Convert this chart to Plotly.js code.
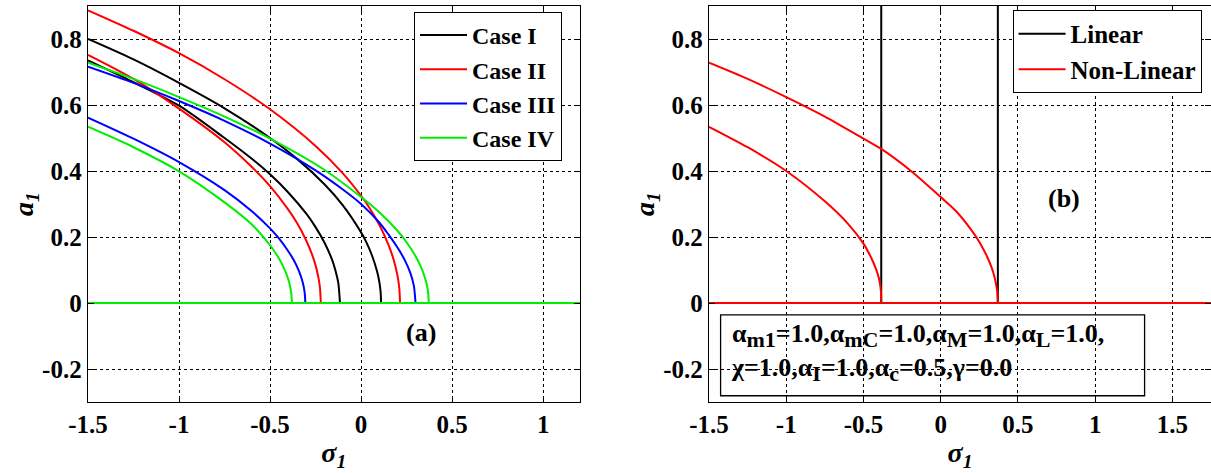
<!DOCTYPE html>
<html>
<head>
<meta charset="utf-8">
<script src="https://cdn.plot.ly/plotly-3.0.1.min.js"></script>
<style>html,body{margin:0;padding:0;background:#fff;}#chart{width:1211px;height:473px;}</style>
</head>
<body>
<div id="chart"></div>
<script>
// ---------- Data ----------
// Panel (a): a1 versus sigma1, upper and lower branches for four cases
const caseNames = ['Case I', 'Case II', 'Case III', 'Case IV'];
const caseColors = ['#000000', '#ff0000', '#0000ff', '#00ee00'];

const case1UpperX = [-1.5, -1.25, -1, -0.75, -0.5, -0.35, -0.2, -0.1, 0, 0.03, 0.06, 0.087, 0.1, 0.107, 0.11];
const case1UpperY = [0.80, 0.738, 0.667, 0.59, 0.50, 0.436, 0.359, 0.296, 0.214, 0.183, 0.144, 0.098, 0.065, 0.035, 0];
const case1LowerX = [-1.5, -1.25, -1, -0.75, -0.6, -0.5, -0.4, -0.3, -0.25, -0.2, -0.16, -0.14, -0.125, -0.116];
const case1LowerY = [0.735, 0.669, 0.598, 0.50, 0.437, 0.39, 0.335, 0.27, 0.23, 0.182, 0.132, 0.097, 0.06, 0];

const case2UpperX = [-1.5, -1.25, -1, -0.75, -0.5, -0.25, -0.1, 0, 0.05, 0.1, 0.15, 0.18, 0.2, 0.21, 0.214];
const case2UpperY = [0.887, 0.825, 0.757, 0.678, 0.587, 0.476, 0.393, 0.325, 0.285, 0.237, 0.177, 0.129, 0.083, 0.044, 0];
const case2LowerX = [-1.5, -1.25, -1, -0.75, -0.6, -0.5, -0.4, -0.35, -0.3, -0.27, -0.25, -0.235, -0.226, -0.221];
const case2LowerY = [0.752, 0.679, 0.589, 0.487, 0.412, 0.354, 0.283, 0.241, 0.188, 0.148, 0.114, 0.079, 0.047, 0];

const case3UpperX = [-1.5, -1.25, -1, -0.75, -0.5, -0.25, -0.1, 0, 0.1, 0.15, 0.2, 0.24, 0.27, 0.29, 0.299];
const case3UpperY = [0.716, 0.667, 0.612, 0.552, 0.483, 0.402, 0.344, 0.30, 0.244, 0.208, 0.168, 0.13, 0.092, 0.052, 0];
const case3LowerX = [-1.5, -1.25, -1, -0.75, -0.6, -0.5, -0.45, -0.4, -0.37, -0.34, -0.32, -0.31, -0.306];
const case3LowerY = [0.562, 0.498, 0.427, 0.342, 0.278, 0.226, 0.195, 0.157, 0.13, 0.095, 0.061, 0.032, 0];

const case4UpperX = [-1.5, -1.25, -1, -0.75, -0.5, -0.2, 0, 0.1, 0.2, 0.25, 0.3, 0.33, 0.35, 0.362, 0.368, 0.372];
const case4UpperY = [0.728, 0.679, 0.624, 0.565, 0.498, 0.403, 0.321, 0.275, 0.219, 0.184, 0.141, 0.108, 0.078, 0.053, 0.033, 0];
const case4LowerX = [-1.5, -1.25, -1, -0.75, -0.6, -0.5, -0.45, -0.42, -0.4, -0.39, -0.383, -0.38];
const case4LowerY = [0.534, 0.472, 0.399, 0.305, 0.238, 0.175, 0.134, 0.101, 0.072, 0.05, 0.028, 0];

const trivialXa = [-1.5, 1.2];   // a1 = 0 solution, panel (a)
const trivialYa = [0, 0];

// Panel (b): linear vs non-linear
const linearSigma = [-0.385, 0.37];
const linearA = [0, 1];
const nlUpperX = [-1.5, -1.25, -1, -0.75, -0.5, -0.385, -0.2, 0, 0.1, 0.2, 0.25, 0.3, 0.33, 0.35, 0.36, 0.366, 0.37];
const nlUpperY = [0.728, 0.679, 0.624, 0.565, 0.498, 0.467, 0.403, 0.321, 0.278, 0.22, 0.185, 0.141, 0.107, 0.076, 0.053, 0.034, 0];
const nlLowerX = [-1.5, -1.25, -1, -0.75, -0.6, -0.5, -0.45, -0.42, -0.4, -0.392, -0.387, -0.385];
const nlLowerY = [0.534, 0.472, 0.40, 0.308, 0.24, 0.18, 0.137, 0.104, 0.075, 0.055, 0.034, 0];
const trivialXb = [-1.5, 1.8];
const trivialYb = [0, 0];

// Tick labels
const xTicksA = [-1.5, -1, -0.5, 0, 0.5, 1];
const xTickTextA = ['-1.5', '-1', '-0.5', '0', '0.5', '1'];
const xTicksB = [-1.5, -1, -0.5, 0, 0.5, 1, 1.5];
const xTickTextB = ['-1.5', '-1', '-0.5', '0', '0.5', '1', '1.5'];
const yTicks = [-0.2, 0, 0.2, 0.4, 0.6, 0.8];
const yTickText = ['-0.2', '0', '0.2', '0.4', '0.6', '0.8'];

// ---------- Build traces ----------
const FAM = 'Liberation Serif';
function joinBranches(parts) {
  const out = [];
  parts.forEach((p, i) => { if (i) out.push(null); out.push(...p); });
  return out;
}
const caseData = [
  [case1UpperX, case1UpperY, case1LowerX, case1LowerY],
  [case2UpperX, case2UpperY, case2LowerX, case2LowerY],
  [case3UpperX, case3UpperY, case3LowerX, case3LowerY],
  [case4UpperX, case4UpperY, case4LowerX, case4LowerY]
];
const traces = caseData.map((d, i) => ({
  type: 'scatter', mode: 'lines', name: caseNames[i],
  x: joinBranches([d[0], d[2], trivialXa]),
  y: joinBranches([d[1], d[3], trivialYa]),
  line: {color: caseColors[i], width: 2, shape: 'spline', smoothing: 0.8},
  xaxis: 'x', yaxis: 'y', legend: 'legend'
}));
traces.push({
  type: 'scatter', mode: 'lines', name: 'Linear',
  x: joinBranches(linearSigma.map(s => [s, s])),
  y: joinBranches(linearSigma.map(() => linearA)),
  line: {color: '#000000', width: 2},
  xaxis: 'x2', yaxis: 'y2', legend: 'legend2'
});
traces.push({
  type: 'scatter', mode: 'lines', name: 'Non-Linear',
  x: joinBranches([nlUpperX, nlLowerX, trivialXb]),
  y: joinBranches([nlUpperY, nlLowerY, trivialYb]),
  line: {color: '#ff0000', width: 2, shape: 'spline', smoothing: 0.8},
  xaxis: 'x2', yaxis: 'y2', legend: 'legend2'
});

const tickFont = {family: FAM, size: 25, color: '#000', weight: 'bold'};
const titleFont = {family: FAM, size: 28, color: '#000', weight: 'bold'};
const axisCommon = {
  showline: true, linecolor: '#000', linewidth: 1.3, mirror: 'ticks',
  ticks: 'inside', ticklen: 6, tickwidth: 1, tickcolor: '#000',
  showgrid: true, gridcolor: '#000', gridwidth: 1, griddash: '3px,3px',
  zeroline: false, tickfont: tickFont, automargin: false, tickmode: 'array'
};
const legendCommon = {
  xref: 'paper', yref: 'paper', xanchor: 'left', yanchor: 'top',
  bgcolor: '#fff', bordercolor: '#000', borderwidth: 1,
  itemwidth: 47, tracegroupgap: 0
};
const annFont = {family: FAM, size: 26, color: '#000', weight: 'bold'};
const S = t => '<sub><span style="font-size:22px">' + t + '</span></sub>';

const layout = {
  width: 1211, height: 473,
  font: {family: FAM, color: '#000'},
  margin: {l: 88, r: 0, t: 6, b: 71, autoexpand: false},
  paper_bgcolor: '#fff', plot_bgcolor: '#fff',
  showlegend: true,
  xaxis: Object.assign({}, axisCommon, {
    domain: [0, 0.4377], range: [-1.5, 1.2], anchor: 'y',
    tickvals: xTicksA, ticktext: xTickTextA,
    title: {text: '<i>σ</i><sub><i>1</i></sub>', font: titleFont, standoff: 5}
  }),
  yaxis: Object.assign({}, axisCommon, {
    domain: [0, 1], range: [-0.3, 0.9], anchor: 'x',
    tickvals: yTicks, ticktext: yTickText,
    title: {text: '<i>a</i><sub><i>1</i></sub>', font: titleFont, standoff: 0}
  }),
  xaxis2: Object.assign({}, axisCommon, {
    domain: [0.553, 1], range: [-1.5, 1.75], anchor: 'y2',
    tickvals: xTicksB, ticktext: xTickTextB,
    title: {text: '<i>σ</i><sub><i>1</i></sub>', font: titleFont, standoff: 5}
  }),
  yaxis2: Object.assign({}, axisCommon, {
    domain: [0, 1], range: [-0.3, 0.9], anchor: 'x2',
    tickvals: yTicks, ticktext: yTickText,
    title: {text: '<i>a</i><sub><i>1</i></sub>', font: titleFont, standoff: 0}
  }),
  legend: Object.assign({}, legendCommon, {x: 0.2903, y: 0.985,
    font: {family: FAM, size: 24, color: '#000', weight: 'bold'}}),
  legend2: Object.assign({}, legendCommon, {x: 0.8233, y: 0.99,
    font: {family: FAM, size: 25, color: '#000', weight: 'bold'}}),
  shapes: [{
    type: 'rect', xref: 'x2', yref: 'y2', x0: -1.425, x1: 1.32, y0: -0.281, y1: -0.036,
    line: {color: '#000', width: 1.3}, fillcolor: 'rgba(0,0,0,0)', layer: 'above'
  }],
  annotations: [
    {xref: 'x', yref: 'y', x: 0.33, y: -0.09, text: '(a)', showarrow: false, font: annFont},
    {xref: 'x2', yref: 'y2', x: 0.8, y: 0.316, text: '(b)', showarrow: false, font: annFont},
    {xref: 'x2', yref: 'y2', x: -1.37, y: -0.15, xanchor: 'left', yanchor: 'middle', align: 'left',
     text: 'α' + S('m1') + '=1.0,α' + S('mC') + '=1.0,α' + S('M') + '=1.0,α' + S('L') + '=1.0,<br>χ=1.0,α' + S('I') + '=1.0,α' + S('c') + '=0.5,γ=0.0',
     showarrow: false, font: annFont}
  ]
};

Plotly.newPlot('chart', traces, layout, {displayModeBar: false, staticPlot: true});
</script>
</body>
</html>
